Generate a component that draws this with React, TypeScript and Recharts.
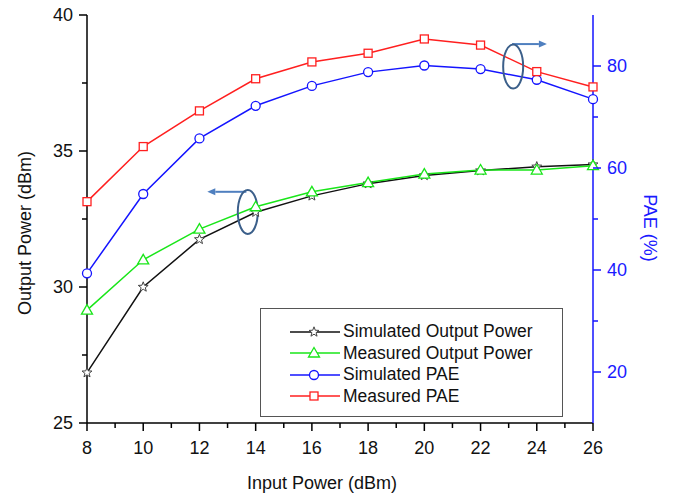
import React from 'react';
import { ComposedChart, Line, XAxis, YAxis, Legend, ReferenceDot, ReferenceLine } from 'recharts';

const FONT = '"Liberation Sans", Arial, sans-serif';

const inputPower = [8, 10, 12, 14, 16, 18, 20, 22, 24, 26];
const simulatedOutput = [26.85, 30.0, 31.75, 32.75, 33.35, 33.8, 34.1, 34.28, 34.42, 34.5];
const measuredOutput = [29.15, 31.0, 32.13, 32.95, 33.5, 33.84, 34.15, 34.3, 34.3, 34.46];
const simulatedPae = [39.35, 54.9, 65.8, 72.2, 76.1, 78.8, 80.1, 79.4, 77.3, 73.5];
const measuredPae = [53.4, 64.2, 71.2, 77.5, 80.8, 82.5, 85.3, 84.1, 78.9, 75.9];

const xTicks = [8, 9, 10, 11, 12, 13, 14, 15, 16, 17, 18, 19, 20, 21, 22, 23, 24, 25, 26];
const xMajor = [8, 10, 12, 14, 16, 18, 20, 22, 24, 26];
const leftTicks = [25, 27.5, 30, 32.5, 35, 37.5, 40];
const leftMajor = [25, 30, 35, 40];
const rightTicks = [20, 30, 40, 50, 60, 70, 80];
const rightMajor = [20, 40, 60, 80];

const series = [
  { key: 'simOut', name: 'Simulated Output Power', color: '#111111', marker: 'star', axis: 'left', values: simulatedOutput },
  { key: 'measOut', name: 'Measured Output Power', color: '#19e619', marker: 'triangle', axis: 'left', values: measuredOutput },
  { key: 'simPae', name: 'Simulated PAE', color: '#1414ff', marker: 'circle', axis: 'right', values: simulatedPae },
  { key: 'measPae', name: 'Measured PAE', color: '#ff1f1f', marker: 'square', axis: 'right', values: measuredPae },
];

const data = inputPower.map((x, i) => {
  const row: any = { x };
  series.forEach((s) => { row[s.key] = s.values[i]; });
  return row;
});

function Marker({ type, cx, cy, color }: any) {
  if (type === 'star') {
    const pts: string[] = [];
    for (let i = 0; i < 10; i++) {
      const a = (-90 + i * 36) * Math.PI / 180;
      const r = i % 2 ? 2.2 : 5.2;
      pts.push(`${cx + r * Math.cos(a)},${cy + r * Math.sin(a)}`);
    }
    return <polygon points={pts.join(' ')} fill="#fff" stroke="#444" strokeWidth={1} />;
  }
  if (type === 'triangle') {
    return <polygon points={`${cx},${cy - 5.5} ${cx + 5.5},${cy + 4} ${cx - 5.5},${cy + 4}`} fill="#fff" stroke={color} strokeWidth={1.3} />;
  }
  if (type === 'circle') {
    return <circle cx={cx} cy={cy} r={4.5} fill="#fff" stroke={color} strokeWidth={1.3} />;
  }
  return <rect x={cx - 4} y={cy - 4} width={8} height={8} fill="#fff" stroke={color} strokeWidth={1.3} />;
}

function BottomTick({ x, y, payload }: any) {
  const v = payload.value;
  const axisY = y - 8;
  const major = xMajor.includes(v);
  return (
    <g>
      <line x1={x} x2={x} y1={axisY} y2={axisY + (major ? 8 : 5)} stroke="#000" strokeWidth={1.5} />
      {major && (
        <text x={x} y={axisY + 31} textAnchor="middle" fontSize={18} fill="#111" fontFamily={FONT}>{v}</text>
      )}
    </g>
  );
}

function TopTick({ x, y, payload }: any) {
  const major = xMajor.includes(payload.value);
  return <line x1={x} x2={x} y1={y} y2={y + (major ? 5 : 4)} stroke="#000" strokeWidth={1.3} />;
}

function LeftTick({ x, y, payload }: any) {
  const v = payload.value;
  const axisX = x + 8;
  const major = leftMajor.includes(v);
  return (
    <g>
      <line x1={axisX - (major ? 8 : 5)} x2={axisX} y1={y} y2={y} stroke="#000" strokeWidth={1.5} />
      {major && (
        <text x={axisX - 14} y={y + 6} textAnchor="end" fontSize={18} fill="#111" fontFamily={FONT}>{v}</text>
      )}
    </g>
  );
}

function RightTick({ x, y, payload }: any) {
  const v = payload.value;
  const axisX = x - 8;
  const major = rightMajor.includes(v);
  return (
    <g>
      <line x1={axisX} x2={axisX + (major ? 8 : 5)} y1={y} y2={y} stroke="#1414ff" strokeWidth={1.5} />
      {major && (
        <text x={axisX + 14} y={y + 6} textAnchor="start" fontSize={18} fill="#1a1aff" fontFamily={FONT}>{v}</text>
      )}
    </g>
  );
}

function AxisTitle({ viewBox, text, side }: any) {
  const vb = viewBox || { x: 0, y: 0, width: 0, height: 0 };
  let cx = vb.x + vb.width / 2 - 18;
  let cy = vb.y + 60;
  let rot = 0;
  let fill = '#111';
  if (side === 'left') {
    cx = vb.x + 25;
    cy = vb.y + vb.height / 2 + 14;
    rot = -90;
  } else if (side === 'right') {
    cx = vb.x + 57;
    cy = vb.y + vb.height / 2 + 9;
    rot = 90;
    fill = '#1a1aff';
  }
  return (
    <text
      x={cx}
      y={cy}
      transform={`rotate(${rot} ${cx} ${cy})`}
      textAnchor="middle"
      dominantBaseline="central"
      fontSize={18}
      fill={fill}
      fontFamily={FONT}
    >
      {text}
    </text>
  );
}

function Arrow({ x1, y1, x2, y2 }: any) {
  const a = Math.atan2(y2 - y1, x2 - x1);
  const len = 8;
  const w = 3.5;
  const bx = x2 - len * Math.cos(a);
  const by = y2 - len * Math.sin(a);
  return (
    <g>
      <line x1={x1} y1={y1} x2={bx} y2={by} stroke="#4f7fbf" strokeWidth={2} />
      <polygon
        points={`${x2},${y2} ${bx - w * Math.sin(a)},${by + w * Math.cos(a)} ${bx + w * Math.sin(a)},${by - w * Math.cos(a)}`}
        fill="#4f7fbf"
      />
    </g>
  );
}

function Ellipse({ cx, cy }: any) {
  return <ellipse cx={cx} cy={cy} rx={10} ry={22} fill="none" stroke="#3b5f8a" strokeWidth={2} />;
}

function LegendBox() {
  return (
    <div
      style={{
        width: 303,
        height: 109,
        border: '1.5px solid #555',
        boxSizing: 'border-box',
        background: '#fff',
        paddingTop: 12,
        paddingLeft: 29,
        fontFamily: FONT,
        fontSize: 17.5,
        color: '#111',
      }}
    >
      {series.map((s) => (
        <div key={s.key} style={{ display: 'flex', alignItems: 'center', height: 21.5 }}>
          <svg width={50} height={16} style={{ display: 'block' }}>
            <line x1={0} x2={50} y1={8} y2={8} stroke={s.color} strokeWidth={1.5} />
            <Marker type={s.marker} cx={24} cy={8} color={s.color} />
          </svg>
          <span style={{ marginLeft: 3, lineHeight: '21px', whiteSpace: 'nowrap' }}>{s.name}</span>
        </div>
      ))}
    </div>
  );
}

export default function App() {
  return (
    <div style={{ position: 'absolute', left: 0, top: 0, background: '#fff' }}>
      <ComposedChart width={683} height={495} data={data} margin={{ top: 15, right: 0, bottom: 0, left: 0 }}>
        <XAxis
          dataKey="x"
          type="number"
          domain={[8, 26]}
          ticks={xTicks}
          interval={0}
          height={72}
          tickSize={8}
          tickMargin={0}
          tickLine={false}
          tick={(p: any) => <BottomTick {...p} />}
          axisLine={{ stroke: '#000', strokeWidth: 1.5 }}
          label={<AxisTitle text="Input Power (dBm)" side="bottom" />}
        />
        <XAxis
          xAxisId="top"
          orientation="top"
          type="number"
          domain={[8, 26]}
          allowDataOverflow
          ticks={xTicks}
          interval={0}
          height={0}
          tickSize={0}
          tickMargin={0}
          tickLine={false}
          tick={(p: any) => <TopTick {...p} />}
          axisLine={{ stroke: '#000', strokeWidth: 1.5 }}
        />
        <YAxis
          yAxisId="left"
          type="number"
          domain={[25, 40]}
          ticks={leftTicks}
          interval={0}
          width={87}
          tickSize={8}
          tickMargin={0}
          tickLine={false}
          tick={(p: any) => <LeftTick {...p} />}
          axisLine={{ stroke: '#000', strokeWidth: 1.5 }}
          label={<AxisTitle text="Output Power (dBm)" side="left" />}
        />
        <YAxis
          yAxisId="right"
          orientation="right"
          type="number"
          domain={[10, 90]}
          ticks={rightTicks}
          interval={0}
          width={90}
          tickSize={8}
          tickMargin={0}
          tickLine={false}
          tick={(p: any) => <RightTick {...p} />}
          axisLine={{ stroke: '#1414ff', strokeWidth: 1.5 }}
          label={<AxisTitle text="PAE (%)" side="right" />}
        />
        <Legend
          layout="horizontal"
          verticalAlign="middle"
          align="center"
          content={<LegendBox />}
          wrapperStyle={{ left: 260, top: 308, width: 303, height: 109 }}
        />
        {series.map((s) => (
          <Line
            key={s.key}
            yAxisId={s.axis}
            dataKey={s.key}
            name={s.name}
            stroke={s.color}
            strokeWidth={1.5}
            isAnimationActive={false}
            dot={(p: any) => <Marker key={`${s.key}-${p.index}`} type={s.marker} cx={p.cx} cy={p.cy} color={s.color} />}
            activeDot={false}
          />
        ))}
        <ReferenceDot yAxisId="left" x={13.72} y={32.76} r={10} shape={(p: any) => <Ellipse {...p} />} />
        <ReferenceLine
          yAxisId="left"
          segment={[{ x: 13.67, y: 33.5 }, { x: 12.28, y: 33.5 }]}
          shape={(p: any) => <Arrow {...p} />}
        />
        <ReferenceDot yAxisId="right" x={23.16} y={79.9} r={10} shape={(p: any) => <Ellipse {...p} />} />
        <ReferenceLine
          yAxisId="right"
          segment={[{ x: 23.12, y: 84.3 }, { x: 24.36, y: 84.3 }]}
          shape={(p: any) => <Arrow {...p} />}
        />
      </ComposedChart>
    </div>
  );
}
